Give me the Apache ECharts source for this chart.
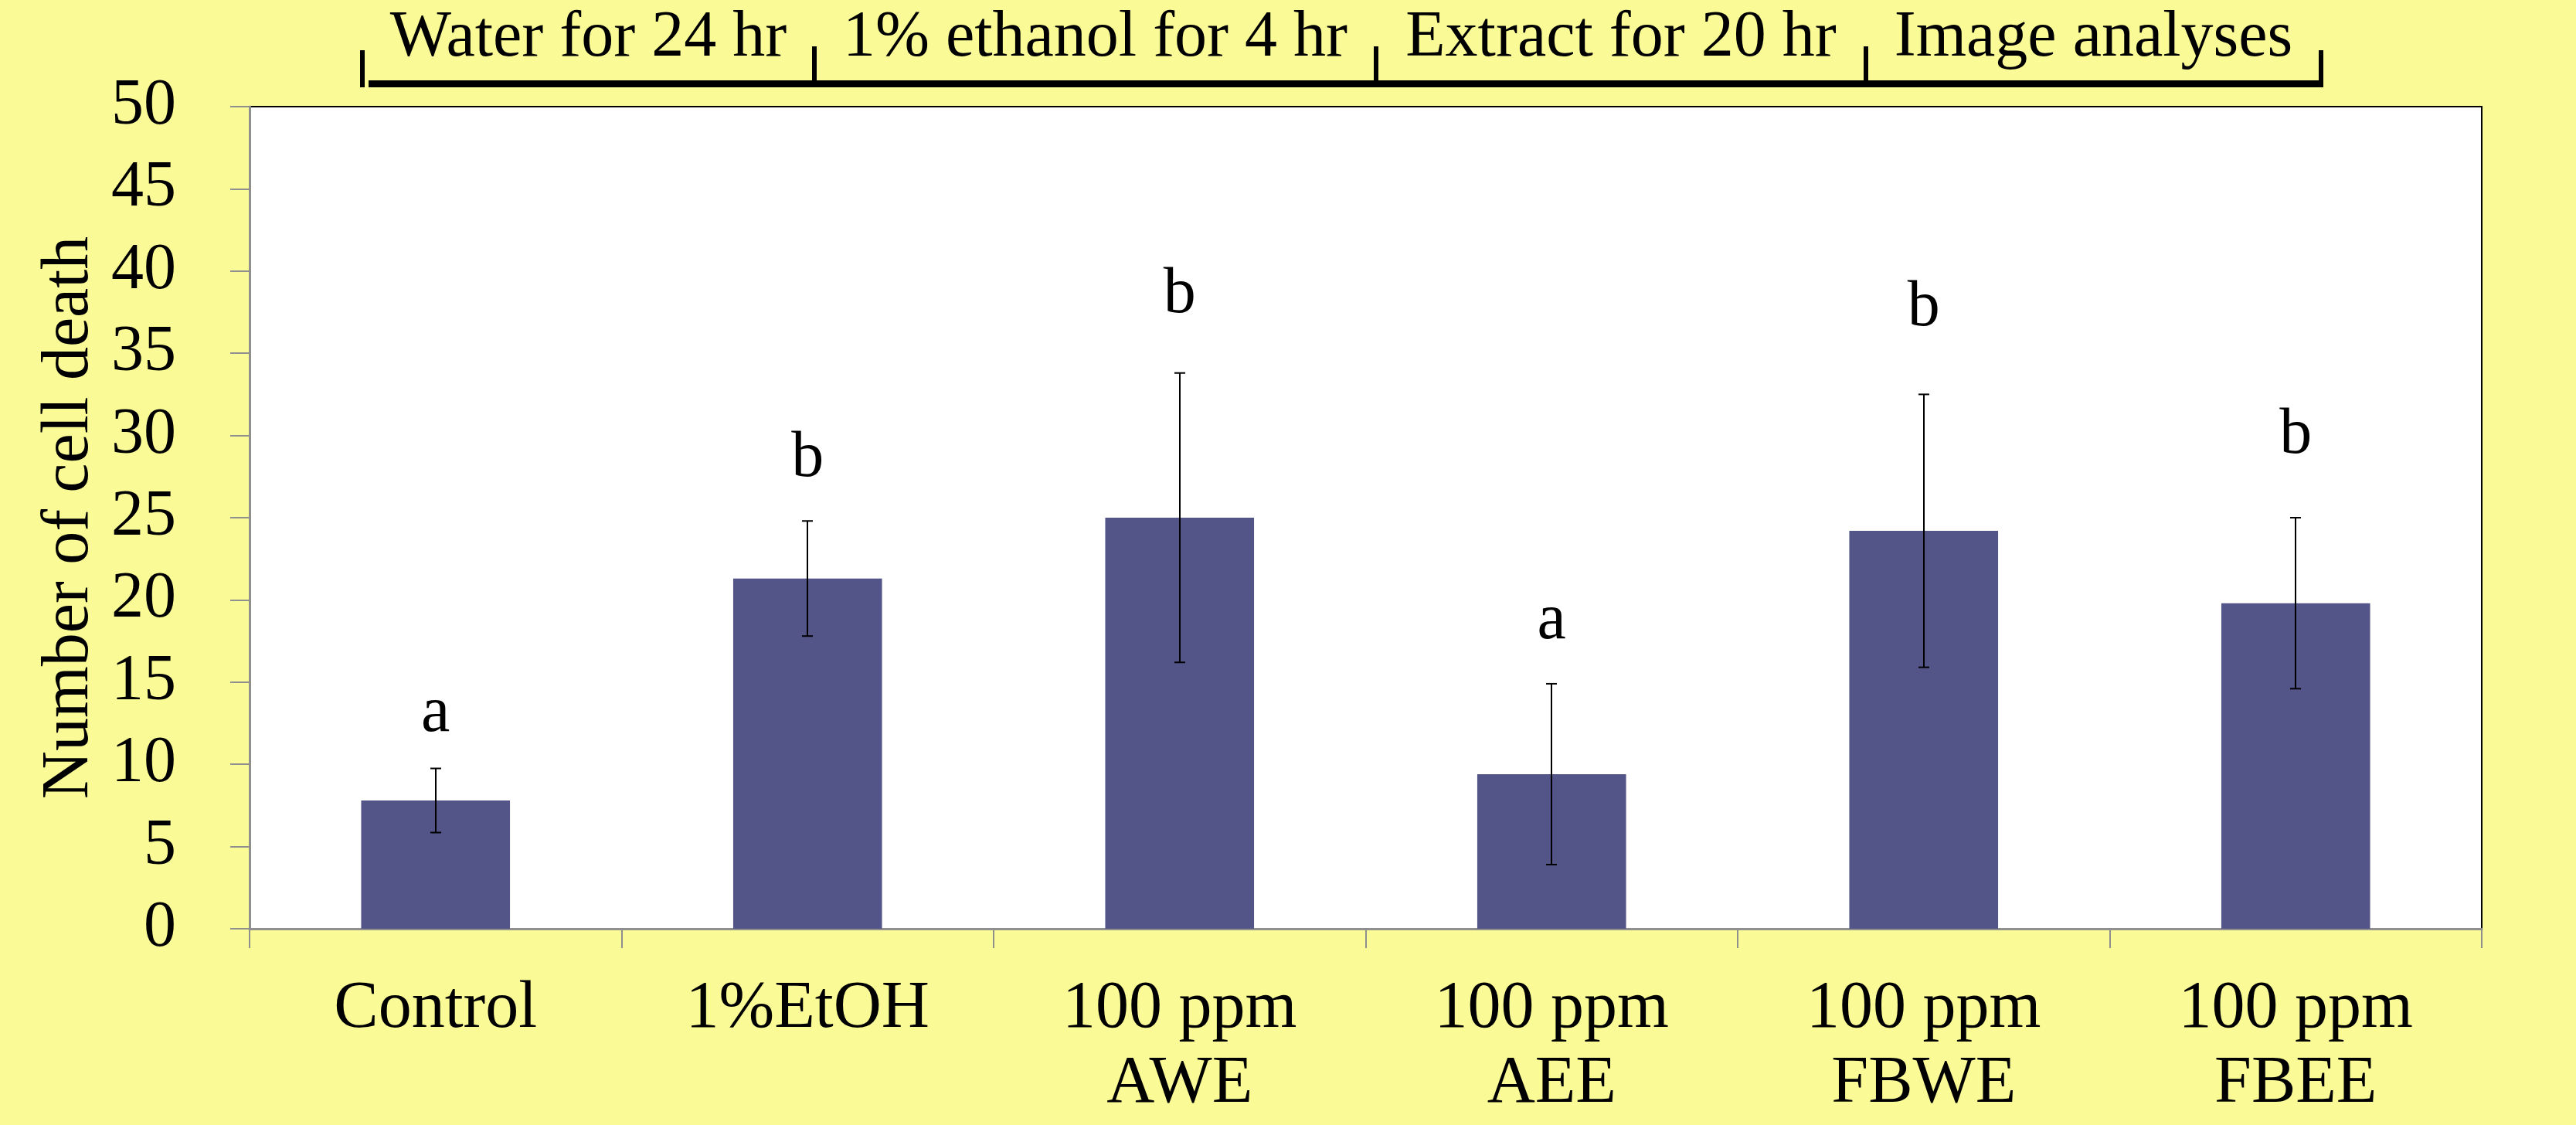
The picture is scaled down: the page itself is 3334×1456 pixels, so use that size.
<!DOCTYPE html>
<html>
<head>
<meta charset="utf-8">
<script src="https://cdn.jsdelivr.net/npm/echarts@6/dist/echarts.min.js"></script>
<style>
html,body{margin:0;padding:0;background:#FAFA96;}
#chart{width:3334px;height:1456px;}
</style>
</head>
<body>
<div id="chart"></div>
<script>
var categories = ['Control', '1%EtOH', '100 ppm\nAWE', '100 ppm\nAEE', '100 ppm\nFBWE', '100 ppm\nFBEE'];
var meanValues = [7.8, 21.3, 25.0, 9.4, 24.2, 19.8];
var errorValues = [1.95, 3.5, 8.8, 5.5, 8.3, 5.2];
var letters = ['a', 'b', 'b', 'a', 'b', 'b'];
var letterLevels = [11.75, 27.26, 37.22, 17.39, 36.42, 28.67];
var yTicks = [0, 5, 10, 15, 20, 25, 30, 35, 40, 45, 50];
var timelineSteps = ['Water for 24 hr', '1% ethanol for 4 hr', 'Extract for 20 hr', 'Image analyses'];

var FONT = '"Liberation Serif", "Times New Roman", serif';
var chart = echarts.init(document.getElementById('chart'), null, {renderer: 'canvas'});

// timeline decoration at top
var bx = [469, 1054, 1781, 2415, 3004];
var tickTops = [65, 60, 60, 60, 65];
var graphics = [];
graphics.push({type: 'rect', shape: {x: 477, y: 104, width: 2527, height: 9}, style: {fill: '#000'}});
for (var i = 0; i < bx.length; i++) {
  graphics.push({type: 'rect', shape: {x: bx[i] - 3, y: tickTops[i], width: 6, height: 113 - tickTops[i]}, style: {fill: '#000'}});
}
for (var j = 0; j < timelineSteps.length; j++) {
  graphics.push({type: 'text', x: (bx[j] + bx[j + 1]) / 2, y: 50,
    style: {text: timelineSteps[j], fontFamily: FONT, fontSize: 84, fill: '#000', align: 'center', verticalAlign: 'middle'}});
}

var option = {
  backgroundColor: '#FAFA96',
  animation: false,
  grid: {left: 323, right: 122, top: 138, bottom: 254, show: true, backgroundColor: '#ffffff', borderColor: '#000', borderWidth: 2},
  xAxis: {
    type: 'category', data: categories,
    axisLine: {lineStyle: {color: '#8f8f8f', width: 3}},
    axisTick: {show: true, alignWithLabel: false, length: 25, lineStyle: {color: '#8f8f8f', width: 2}},
    axisLabel: {fontFamily: FONT, fontSize: 86, lineHeight: 97, color: '#000', margin: 56, interval: 0}
  },
  yAxis: {
    type: 'value', min: 0, max: 50, interval: 5,
    name: 'Number of cell death', nameLocation: 'middle', nameRotate: 90, nameGap: 185,
    nameTextStyle: {fontFamily: FONT, fontSize: 86, color: '#000'},
    axisLine: {show: true, lineStyle: {color: '#8f8f8f', width: 3}},
    axisTick: {show: true, inside: false, length: 25, lineStyle: {color: '#8f8f8f', width: 2}},
    splitLine: {show: false},
    axisLabel: {fontFamily: FONT, fontSize: 84, color: '#000', margin: 95,
      formatter: function (v) { return yTicks.indexOf(v) >= 0 ? String(v) : ''; }}
  },
  series: [
    {
      type: 'bar', data: meanValues, barCategoryGap: '60%',
      itemStyle: {color: '#535488'}, z: 2
    },
    {
      type: 'custom', z: 5,
      data: meanValues.map(function (m, k) { return [k, m - errorValues[k], m + errorValues[k]]; }),
      renderItem: function (params, api) {
        var x = api.value(0);
        var lo = api.coord([x, api.value(1)]);
        var hi = api.coord([x, api.value(2)]);
        var cx = Math.round(lo[0]);
        var st = {stroke: '#000', lineWidth: 2};
        return {type: 'group', children: [
          {type: 'line', shape: {x1: cx, y1: hi[1], x2: cx, y2: lo[1]}, style: st},
          {type: 'line', shape: {x1: cx - 7, y1: hi[1], x2: cx + 7, y2: hi[1]}, style: st},
          {type: 'line', shape: {x1: cx - 7, y1: lo[1], x2: cx + 7, y2: lo[1]}, style: st}
        ]};
      }
    },
    {
      type: 'custom', z: 6,
      data: letterLevels.map(function (v, k) { return [k, v]; }),
      renderItem: function (params, api) {
        var p = api.coord([api.value(0), api.value(1)]);
        return {type: 'text', x: p[0], y: p[1] - 0.3375 * 84,
          style: {text: letters[params.dataIndex], fontFamily: FONT, fontSize: 84, fill: '#000', align: 'center', verticalAlign: 'middle'}};
      }
    }
  ],
  graphic: graphics
};
chart.setOption(option);
</script>
</body>
</html>
